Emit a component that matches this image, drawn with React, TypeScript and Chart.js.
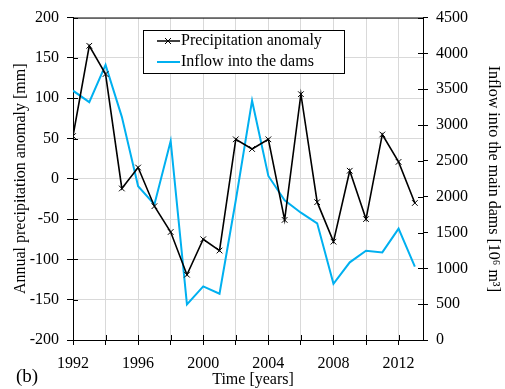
import React, { useEffect, useRef } from "react";
import { Chart, registerables } from "chart.js";

Chart.register(...registerables);

const years = [1992, 1993, 1994, 1995, 1996, 1997, 1998, 1999, 2000, 2001, 2002, 2003, 2004, 2005, 2006, 2007, 2008, 2009, 2010, 2011, 2012, 2013];
const precipAnomaly = [53, 165, 130, -12, 14, -34, -66, -119, -75, -89, 49, 37, 49, -51, 105, -29, -78, 10, -50, 55, 21, -30];
const inflow = [3480, 3320, 3840, 3115, 2146, 1893, 2779, 498, 748, 646, 1950, 3340, 2290, 1950, 1777, 1629, 785, 1084, 1246, 1223, 1555, 1025];

const xTicks = [1992, 1994, 1996, 1998, 2000, 2002, 2004, 2006, 2008, 2010, 2012];
const leftTicks = [-200, -150, -100, -50, 0, 50, 100, 150, 200];
const rightTicks = [0, 500, 1000, 1500, 2000, 2500, 3000, 3500, 4000, 4500];

const seriesNames = ["Precipitation anomaly", "Inflow into the dams"];
const xTitle = "Time [years]";
const leftTitle = "Annual precipitation anomaly [mm]";
const rightTitle = "Inflow into the main dams [10\u2076 m\u00b3]";
const panelLabel = "(b)";

const FONT = "'Liberation Serif', 'Times New Roman', serif";
const BLUE = "#00b0f0";

const overlay = {
  id: "overlay",
  afterDraw(chart: any) {
    const ctx = chart.ctx;
    const a = chart.chartArea;
    ctx.save();
    ctx.strokeStyle = "#000";
    ctx.lineWidth = 1;
    ctx.beginPath();
    ctx.moveTo(a.left, a.top + 0.5);
    ctx.lineTo(a.right, a.top + 0.5);
    const sx = chart.scales.x, sy = chart.scales.y, sy2 = chart.scales.y2;
    xTicks.forEach((v) => {
      const px = Math.round(sx.getPixelForValue(v)) + 0.5;
      ctx.moveTo(px, a.bottom);
      ctx.lineTo(px, a.bottom - 5);
    });
    leftTicks.forEach((v) => {
      const py = Math.round(sy.getPixelForValue(v)) + 0.5;
      ctx.moveTo(a.left, py);
      ctx.lineTo(a.left + 5, py);
    });
    rightTicks.forEach((v) => {
      const py = Math.round(sy2.getPixelForValue(v)) + 0.5;
      ctx.moveTo(a.right, py);
      ctx.lineTo(a.right - 5, py);
    });
    ctx.stroke();

    const bx = 143.5, by = 30.5, bw = 201, bh = 43;
    ctx.fillStyle = "#fff";
    ctx.fillRect(bx, by, bw, bh);
    ctx.strokeStyle = "#000";
    ctx.strokeRect(bx, by, bw, bh);
    ctx.font = `16px ${FONT}`;
    ctx.textBaseline = "middle";
    ctx.textAlign = "left";
    const rows = [41, 62];
    ctx.strokeStyle = "#000";
    ctx.lineWidth = 1.5;
    ctx.beginPath();
    ctx.moveTo(157, rows[0]);
    ctx.lineTo(180, rows[0]);
    ctx.stroke();
    ctx.lineWidth = 1;
    ctx.beginPath();
    ctx.moveTo(165, rows[0] - 3);
    ctx.lineTo(171, rows[0] + 3);
    ctx.moveTo(171, rows[0] - 3);
    ctx.lineTo(165, rows[0] + 3);
    ctx.stroke();
    ctx.fillStyle = "#000";
    ctx.fillText(seriesNames[0], 181, rows[0]);
    ctx.strokeStyle = BLUE;
    ctx.lineWidth = 2;
    ctx.beginPath();
    ctx.moveTo(157, rows[1]);
    ctx.lineTo(180, rows[1]);
    ctx.stroke();
    ctx.fillText(seriesNames[1], 181, rows[1]);

    // x-axis title
    ctx.textAlign = "center";
    ctx.fillText(xTitle, 253, 380);

    ctx.textAlign = "left";
    ctx.font = `19px ${FONT}`;
    ctx.fillText(panelLabel, 16, 377);
    ctx.restore();
  },
};

export default function App() {
  const ref = useRef<HTMLCanvasElement | null>(null);
  useEffect(() => {
    if (!ref.current) return;
    const tickFont = { family: FONT, size: 16 };
    const chart = new Chart(ref.current, {
      type: "line",
      data: {
        datasets: [
          {
            label: seriesNames[0],
            data: years.map((y, i) => ({ x: y, y: precipAnomaly[i] })),
            borderColor: "#000",
            backgroundColor: "#000",
            borderWidth: 1.6,
            pointStyle: "crossRot",
            pointRadius: 4,
            pointBorderWidth: 1,
            yAxisID: "y",
            order: 0,
          },
          {
            label: seriesNames[1],
            data: years.map((y, i) => ({ x: y, y: inflow[i] })),
            borderColor: BLUE,
            backgroundColor: BLUE,
            borderWidth: 2,
            pointRadius: 0,
            yAxisID: "y2",
            order: 1,
          },
        ],
      },
      options: {
        responsive: false,
        animation: false,
        layout: { padding: { top: 15, left: 0, right: 0, bottom: 0 } },
        plugins: { legend: { display: false }, tooltip: { enabled: false } },
        elements: { line: { tension: 0 } },
        scales: {
          x: {
            type: "linear",
            min: 1992,
            max: 2013.5,
            afterBuildTicks: (s: any) => {
              s.ticks = xTicks.map((v) => ({ value: v }));
            },
            afterFit: (s: any) => {
              s.height = 49;
            },
            ticks: {
              color: "#000",
              font: tickFont,
              padding: 9,
              maxRotation: 0,
              autoSkip: false,
              callback: (v: any) => (Number(v) % 4 === 0 ? String(v) : ""),
            },
            grid: { color: "#d9d9d9", tickColor: "#000", tickLength: 5, lineWidth: 1 },
            border: { color: "#000", width: 1 },
            title: { display: false, text: xTitle },
          },
          y: {
            type: "linear",
            position: "left",
            min: -200,
            max: 200,
            afterBuildTicks: (s: any) => {
              s.ticks = leftTicks.map((v) => ({ value: v }));
            },
            afterFit: (s: any) => {
              s.width = 73;
            },
            ticks: { color: "#000", font: tickFont, padding: 8, callback: (v: any) => String(v) },
            grid: { color: "#d9d9d9", tickColor: "#000", tickLength: 6 },
            border: { color: "#000", width: 1 },
            title: { display: true, text: leftTitle, color: "#000", font: tickFont, padding: { top: 11, bottom: 0 } },
          },
          y2: {
            type: "linear",
            position: "right",
            min: 0,
            max: 4500,
            afterBuildTicks: (s: any) => {
              s.ticks = rightTicks.map((v) => ({ value: v }));
            },
            afterFit: (s: any) => {
              s.width = 82;
            },
            ticks: { color: "#000", font: tickFont, padding: 8, callback: (v: any) => String(v) },
            grid: { drawOnChartArea: false, tickColor: "#000", tickLength: 5 },
            border: { color: "#000", width: 1 },
            title: { display: true, text: rightTitle, color: "#000", font: tickFont, padding: { top: 2.5, bottom: 0 } },
          },
        },
      },
      plugins: [overlay],
    } as any);
    let alive = true;
    const fonts = (document as any).fonts;
    if (fonts && fonts.load) {
      Promise.all([
        fonts.load(`16px 'Liberation Serif'`),
        fonts.load(`19px 'Liberation Serif'`),
      ])
        .then(() => {
          if (alive) chart.update();
        })
        .catch(() => {});
    }
    return () => {
      alive = false;
      chart.destroy();
    };
  }, []);
  return (
    <div style={{ position: "fixed", left: 0, top: 0, width: 505, height: 389, background: "#fff" }}>
      <canvas ref={ref} width={505} height={389} style={{ display: "block" }} />
    </div>
  );
}
